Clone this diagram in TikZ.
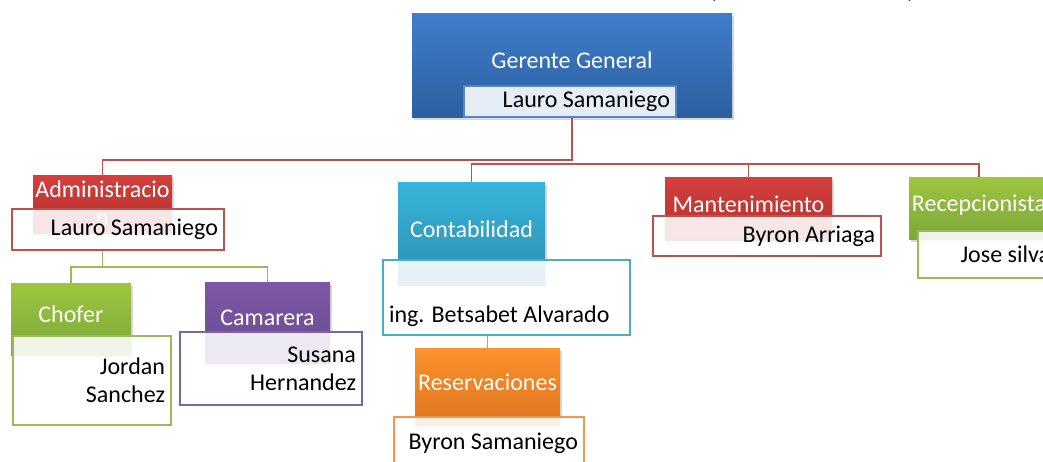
\documentclass[tikz,border=0pt]{standalone}
\usepackage{fontspec}
\setmainfont{Carlito}
\usepackage{tikz}
\usetikzlibrary{shadows,backgrounds}

\definecolor{blueT}{HTML}{3E7ECB}
\definecolor{blueB}{HTML}{2D5F9F}
\definecolor{redT}{HTML}{D43F3C}
\definecolor{redB}{HTML}{B3312E}
\definecolor{greenT}{HTML}{9DC640}
\definecolor{greenB}{HTML}{7DA73A}
\definecolor{purpleT}{HTML}{7D58A6}
\definecolor{purpleB}{HTML}{6A4992}
\definecolor{cyanT}{HTML}{37B4DA}
\definecolor{cyanB}{HTML}{2A8FB0}
\definecolor{orangeT}{HTML}{FB922C}
\definecolor{orangeB}{HTML}{DE7420}
\definecolor{redLine}{HTML}{C0504D}
\definecolor{greenLine}{HTML}{9BBB59}
\definecolor{purpleLine}{HTML}{8064A2}
\definecolor{cyanLine}{HTML}{4BACC6}
\definecolor{orangeLine}{HTML}{F79646}
\definecolor{blueLine}{HTML}{5585C5}
\definecolor{paleBlue}{HTML}{E7EDF5}

\begin{document}
\begin{tikzpicture}[x=1pt, y=-1pt, font=\fontsize{24}{28}\selectfont,
    head/.style={rectangle, inner sep=2pt, text=white, align=center, text depth=9pt,
                 drop shadow={opacity=0.3, shadow xshift=2pt, shadow yshift=-3pt}},
    namebox/.style={rectangle, inner ysep=0pt, inner xsep=6pt, draw=#1, line width=1.5pt,
                    fill=white, fill opacity=0.88, text opacity=1, align=flush right},
    link/.style={draw=#1, line width=1.5pt}]
    \useasboundingbox (0,0) rectangle (1043,461);

    \node (parL) [anchor=base, text=black!75] at (713,-2) {(};
    \node (parR) [anchor=base, text=black!75] at (911,-2) {)};

    \node[head, top color=blueT,   bottom color=blueB,   minimum width=320, minimum height=104] (ger)   at (572,65)    {Gerente General};
    \node[namebox=blueLine, fill=paleBlue, fill opacity=1, minimum height=31, text width=200] (gerN) at (570,101.5) {Lauro Samaniego};

    \node[head, top color=redT,    bottom color=redB,    minimum width=139, minimum height=58, text depth=1pt] (adm) at (102.5,204) {Administracio\\n};
    \node[namebox=redLine,    minimum height=41, text width=200] (admN)  at (118,229.5)  {Lauro Samaniego};

    \node[head, top color=greenT,  bottom color=greenB,  minimum width=120, minimum height=72]  (chof)  at (71,319)    {Chofer};
    \node[namebox=greenLine,  minimum height=89, text width=146] (chofN) at (92,380.5)   {Jordan\\Sanchez};

    \node[head, top color=purpleT, bottom color=purpleB, minimum width=125, minimum height=81]  (cam)   at (267.5,322.5) {Camarera};
    \node[namebox=purpleLine, minimum height=73, text width=170] (camN)  at (271,368.5)  {Susana\\Hernandez};

    \node[head, top color=cyanT,   bottom color=cyanB,   minimum width=147, minimum height=103] (cont)  at (471.5,233.5) {Contabilidad};
    \node[namebox=cyanLine,   minimum height=75, text width=235, align=flush left] (contN) at (506.5,297.5) {\mbox{}\\[26pt]ing. Betsabet Alvarado};

    \node[head, top color=orangeT, bottom color=orangeB, minimum width=145, minimum height=77]  (res)   at (487.5,386.5) {Reservaciones};
    \node[namebox=orangeLine, minimum height=53, text width=178] (resN)  at (489,443.5)   {Byron Samaniego};

    \node[head, top color=redT,    bottom color=redB,    minimum width=167, minimum height=63]  (mant)  at (748.5,208.5) {Mantenimiento};
    \node[namebox=redLine,    minimum height=40, text width=216] (mantN) at (767,236)     {Byron Arriaga};

    \node[head, top color=greenT,  bottom color=greenB,  minimum width=140, minimum height=62]  (rec)   at (979,208)   {Recepcionista};
    \node[namebox=greenLine,  minimum height=47, text width=126] (recN)  at (987,254.5)   {Jose silva};

    \coordinate (busL)   at (572,160);
    \coordinate (busR)   at (572,164);
    \coordinate (admBus) at (102.5,267);

    \begin{pgfonlayer}{background}
        \draw[link=redLine]   (ger.south) -- (busL) -| (adm.north);
        \draw[link=redLine]   (busR) -| (cont.north);
        \draw[link=redLine]   (busR) -| (mant.north);
        \draw[link=redLine]   (busR) -| (rec.north);
        \draw[link=greenLine] (adm.south |- admN.south) -- (admBus) -| (chof.north);
        \draw[link=greenLine] (admBus) -| (cam.north);
        \draw[link=greenLine] (contN.south -| res.north) -- (res.north);
    \end{pgfonlayer}
\end{tikzpicture}
\end{document}
